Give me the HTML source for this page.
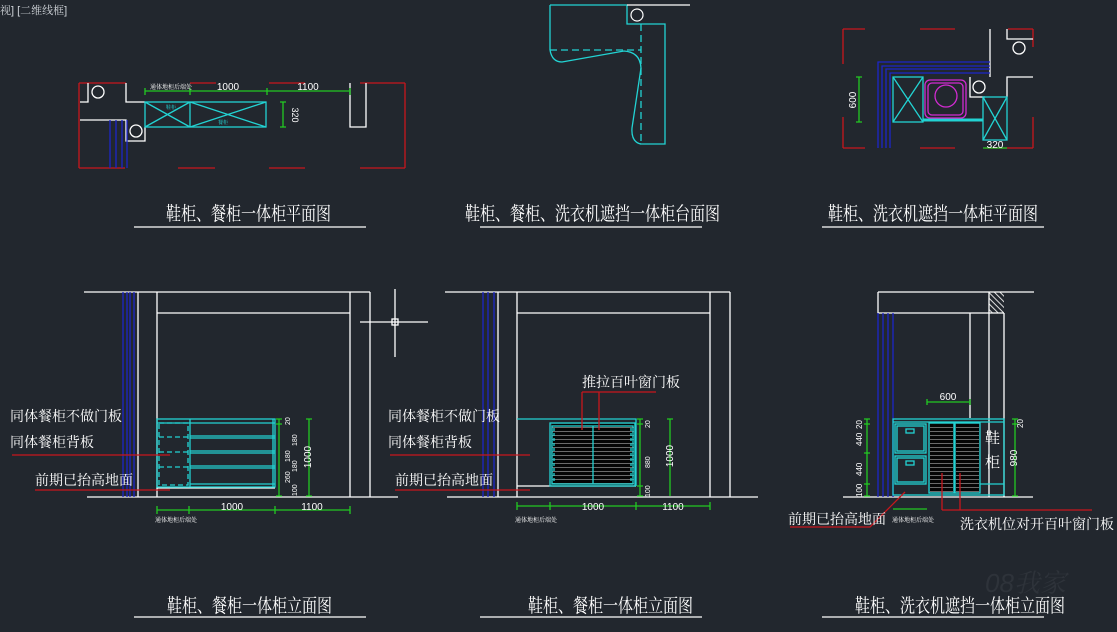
<!DOCTYPE html>
<html><head><meta charset="utf-8"><style>
html,body{margin:0;padding:0;background:#22272e;}
svg{display:block}
text{font-family:"Liberation Sans","Noto Serif CJK SC",serif;}
</style></head><body>
<svg width="1117" height="632" viewBox="0 0 1117 632" xmlns="http://www.w3.org/2000/svg">
<defs>
<pattern id="lv" width="6" height="4" patternUnits="userSpaceOnUse"><rect width="6" height="4" fill="#050505"/><rect y="3" width="6" height="1" fill="#6a6a6a"/></pattern>
<pattern id="hat" width="4" height="4" patternUnits="userSpaceOnUse" patternTransform="rotate(-45)"><rect width="4" height="4" fill="#22272e"/><rect width="1" height="4" fill="#ddd"/></pattern>
</defs>
<rect width="1117" height="632" fill="#22272e"/>
<text x="0" y="14" fill="#cfd3d8" font-size="11">视] [二维线框]</text>

<!-- Panel 1 plan -->
<g fill="none" stroke-width="1.3">
<g stroke="#c8161d">
<path d="M79 83V168M405 83V168"/>
<path d="M79 83H126M190 83H216M269 83H305M360 83H405"/>
<path d="M79 168H125M178 168H215M269 168H305M360 168H405"/>
</g>
<g stroke="#fff">
<path d="M88 83V102H80M126 83V102H145M80 120H126V141H145V127"/>
<circle cx="98" cy="92" r="6"/><circle cx="136" cy="131" r="6"/>
<path d="M350 83V127H366V83"/>
</g>
<g stroke="#1d25c8"><path d="M110 120V168M116 120V168M122 120V168M127 120V168"/></g>
<g stroke="#22d3d3">
<rect x="145" y="102" width="121" height="25"/><path d="M190 102V127M145 102L190 127M190 102L145 127M190 102L266 127M266 102L190 127"/>
</g>
<g stroke="#22c922"><path d="M145 91H350M145 88V95M190 88V95M267 88V95M350 88V95M283 102V127M280 102H286M280 127H286"/></g>
</g>
<text x="228" y="90" fill="#fff" font-size="10" text-anchor="middle">1000</text>
<text x="308" y="90" fill="#fff" font-size="10" text-anchor="middle">1100</text>
<text x="150" y="89" fill="#fff" font-size="6">通体地柜后端处</text>
<text transform="translate(292,115) rotate(90)" fill="#fff" font-size="9" text-anchor="middle">320</text>
<text x="166" y="109" fill="#2dd" font-size="5">鞋柜</text>
<text x="218" y="124" fill="#2dd" font-size="5">餐柜</text>
<text x="166" y="220" fill="#fff" font-size="19" textLength="165" lengthAdjust="spacingAndGlyphs">鞋柜、餐柜一体柜平面图</text>
<path d="M134 227H366" stroke="#fff" stroke-width="1.3"/>

<!-- Panel 2 countertop -->
<g fill="none" stroke="#22d3d3" stroke-width="1.3">
<path d="M550 5H627V24H665V144H640M550 5V50"/>
<path d="M550 50H641M641 24V144" stroke-dasharray="7,4"/>
<path d="M550 50Q552 62 562 62L624 51Q640 52 641 68L632 128Q631 142 641 144"/>
</g>
<path d="M627 5H690" stroke="#fff" stroke-width="1.3"/>
<circle cx="637" cy="15" r="6" fill="none" stroke="#fff" stroke-width="1.2"/>
<text x="465" y="220" fill="#fff" font-size="19" textLength="255" lengthAdjust="spacingAndGlyphs">鞋柜、餐柜、洗衣机遮挡一体柜台面图</text>
<path d="M480 227H702" stroke="#fff" stroke-width="1.3"/>

<!-- Panel 3 plan -->
<g fill="none" stroke-width="1.3">
<g stroke="#c8161d">
<path d="M843 29V64M843 117V148M1033 29V47M1033 117V148"/>
<path d="M843 29H865M920 29H955M1008 29H1033M843 148H865M920 148H955M985 148H1033"/>
</g>
<g stroke="#fff"><path d="M990 29V77M1007 29V39H1033M1033 77H1007V97M970 77V97H985"/>
<circle cx="1019" cy="48" r="6"/><circle cx="979" cy="87" r="6"/></g>
<g stroke="#1d25c8"><path d="M878 148V62H990M882 148V66H990M886 148V69H990M890 148V73H990"/></g>
<g stroke="#22d3d3"><rect x="893" y="77" width="30" height="45"/><path d="M893 77L923 122M923 77L893 122"/>
<rect x="983" y="97" width="24" height="43"/><path d="M983 97L1007 140M1007 97L983 140"/>
<path d="M923 120H983" stroke-width="3"/></g>
<g stroke="#d22bd2"><rect x="925" y="80" width="41" height="38" rx="5"/><rect x="928" y="83" width="35" height="32" rx="4"/><circle cx="946" cy="96" r="11"/></g>
<g stroke="#22c922"><path d="M859 77V122M856 77H862M856 122H862M983 148H1007"/></g>
</g>
<text transform="translate(856,100) rotate(-90)" fill="#fff" font-size="10" text-anchor="middle">600</text>
<text x="995" y="148" fill="#fff" font-size="10" text-anchor="middle">320</text>
<text x="828" y="220" fill="#fff" font-size="19" textLength="210" lengthAdjust="spacingAndGlyphs">鞋柜、洗衣机遮挡一体柜平面图</text>
<path d="M822 227H1044" stroke="#fff" stroke-width="1.3"/>

<!-- Panel 4 elevation -->
<g fill="none" stroke-width="1.3">
<g stroke="#fff"><path d="M84 292H370M138 292V497M157 292V497M350 292V497M370 292V497M157 313H350M87 497H398M157 488H275"/>
<path d="M360 322H428M395 289V357"/><rect x="392" y="319" width="6" height="6"/></g>
<g stroke="#1d25c8"><path d="M123 292V497M127 292V497M130 292V497M134 292V497"/></g>
<g stroke="#22d3d3"><rect x="157" y="419" width="118" height="68"/><path d="M157 423H275M190 436H275M190 438H275M190 451H275M190 453H275M190 466H275M190 468H275M190 484H275M190 419V487M273 419V487"/>
<path d="M159 423H188V485H159ZM159 437H188M159 452H188M159 467H188" stroke-dasharray="5,3"/></g>
<g stroke="#22c922"><path d="M279 419V496M309 419V496M276 419H282M276 424H282M276 496H282M306 419H312M306 496H312M157 510H350M157 506V514M189 506V514M275 506V514M350 506V514"/></g>
<g stroke="#c8161d"><path d="M12 455H170M35 490H170"/></g>
</g>
<g fill="#fff" font-size="7">
<text transform="translate(290,425) rotate(-90)">20</text>
<text transform="translate(297,446) rotate(-90)">180</text>
<text transform="translate(290,462) rotate(-90)">180</text>
<text transform="translate(297,472) rotate(-90)">180</text>
<text transform="translate(290,483) rotate(-90)">260</text>
<text transform="translate(297,496) rotate(-90)">100</text>
</g>
<text transform="translate(311,457) rotate(-90)" fill="#fff" font-size="10" text-anchor="middle">1000</text>
<text x="232" y="510" fill="#fff" font-size="10" text-anchor="middle">1000</text>
<text x="312" y="510" fill="#fff" font-size="10" text-anchor="middle">1100</text>
<text x="155" y="522" fill="#fff" font-size="6">通体地柜后端处</text>
<g fill="#fff" font-size="14" style="font-family:'Noto Serif CJK SC',serif">
<text x="10" y="421">同体餐柜不做门板</text><text x="10" y="447">同体餐柜背板</text><text x="35" y="485">前期已抬高地面</text>
</g>
<text x="167" y="612" fill="#fff" font-size="19" textLength="165" lengthAdjust="spacingAndGlyphs">鞋柜、餐柜一体柜立面图</text>
<path d="M134 617H366" stroke="#fff" stroke-width="1.3"/>

<!-- Panel 5 elevation -->
<rect x="552" y="424" width="82" height="62" fill="url(#lv)"/>
<g fill="none" stroke-width="1.3">
<g stroke="#fff"><path d="M445 292H730M498 292V497M517 292V497M710 292V497M730 292V497M517 313H710M447 497H758M517 486H636"/></g>
<g stroke="#1d25c8"><path d="M483 292V497M488 292V497M494 292V497"/></g>
<g stroke="#22d3d3"><path d="M517 419H636V486"/><rect x="550" y="423" width="85" height="63"/><rect x="552" y="426" width="81" height="58"/><path d="M593 426V484"/><path d="M554 428V484M631 428V484" stroke-dasharray="3,2"/></g>
<g stroke="#22c922"><path d="M640 419V496M670 419V496M637 419H643M637 424H643M637 486H643M637 496H643M667 419H673M517 506H710M517 502V510M550 502V510M636 502V510M710 502V510"/></g>
<g stroke="#c8161d"><path d="M390 455H530M395 490H530M582 392H656M582 392V430M599 392V430"/></g>
</g>
<g fill="#fff" font-size="7"><text transform="translate(650,428) rotate(-90)">20</text><text transform="translate(650,468) rotate(-90)">880</text><text transform="translate(650,497) rotate(-90)">100</text></g>
<text transform="translate(673,456) rotate(-90)" fill="#fff" font-size="10" text-anchor="middle">1000</text>
<text x="593" y="510" fill="#fff" font-size="10" text-anchor="middle">1000</text>
<text x="673" y="510" fill="#fff" font-size="10" text-anchor="middle">1100</text>
<text x="515" y="522" fill="#fff" font-size="6">通体地柜后端处</text>
<g fill="#fff" font-size="14" style="font-family:'Noto Serif CJK SC',serif">
<text x="388" y="421">同体餐柜不做门板</text><text x="388" y="447">同体餐柜背板</text><text x="395" y="485">前期已抬高地面</text><text x="582" y="387">推拉百叶窗门板</text>
</g>
<text x="528" y="612" fill="#fff" font-size="19" textLength="165" lengthAdjust="spacingAndGlyphs">鞋柜、餐柜一体柜立面图</text>
<path d="M480 617H702" stroke="#fff" stroke-width="1.3"/>

<!-- Panel 6 elevation -->
<rect x="930" y="424" width="23" height="68" fill="url(#lv)"/>
<rect x="956" y="424" width="23" height="68" fill="url(#lv)"/>
<rect x="989" y="292" width="15" height="21" fill="url(#hat)"/>
<g fill="none" stroke-width="1.3">
<g stroke="#fff"><path d="M878 292H1034M878 292V313H1004M989 292V313M970 313V418M989 313V497M1004 313V497M843 497H1033"/></g>
<g stroke="#1d25c8"><path d="M878 313V497M883 313V497M888 313V497M893 313V497"/></g>
<g stroke="#22d3d3"><rect x="893" y="419" width="111" height="76"/><path d="M893 422H1004"/>
<rect x="895" y="424" width="31" height="29"/><rect x="897" y="426" width="27" height="25"/>
<rect x="895" y="456" width="31" height="28"/><rect x="897" y="458" width="27" height="24"/>
<rect x="906" y="429" width="8" height="4"/><rect x="906" y="461" width="8" height="4"/>
<rect x="929" y="423" width="25" height="70"/><rect x="955" y="423" width="25" height="70"/><path d="M980 484H1004"/></g>
<g stroke="#22c922"><path d="M867 419V496M864 419H870M864 424H870M864 453H870M864 484H870M864 496H870M1015 419V496M1012 419H1018M1012 424H1018M1012 496H1018M927 402H970M927 399V405M970 399V405M893 509H927"/></g>
<g stroke="#c8161d"><path d="M790 527H870L905 492M942 510H1092M942 510V473M960 510V473"/></g>
</g>
<g fill="#fff" font-size="8"><text transform="translate(862,429) rotate(-90)">20</text><text transform="translate(862,446) rotate(-90)">440</text><text transform="translate(862,476) rotate(-90)">440</text><text transform="translate(862,497) rotate(-90)">100</text><text transform="translate(1023,428) rotate(-90)">20</text></g>
<text transform="translate(1017,458) rotate(-90)" fill="#fff" font-size="10" text-anchor="middle">980</text>
<text x="948" y="400" fill="#fff" font-size="10" text-anchor="middle">600</text>
<text x="892" y="522" fill="#fff" font-size="6">通体地柜后端处</text>
<g fill="#fff" font-size="15" style="font-family:'Noto Serif CJK SC',serif"><text x="985" y="443">鞋</text><text x="985" y="467">柜</text></g>
<g fill="#fff" font-size="14" style="font-family:'Noto Serif CJK SC',serif"><text x="788" y="524">前期已抬高地面</text><text x="960" y="529">洗衣机位对开百叶窗门板</text></g>
<text x="855" y="612" fill="#fff" font-size="19" textLength="210" lengthAdjust="spacingAndGlyphs">鞋柜、洗衣机遮挡一体柜立面图</text>
<path d="M822 617H1044" stroke="#fff" stroke-width="1.3"/>
<text x="985" y="592" fill="#2e333a" font-size="26" font-style="italic">08我家</text>
</svg>
</body></html>
